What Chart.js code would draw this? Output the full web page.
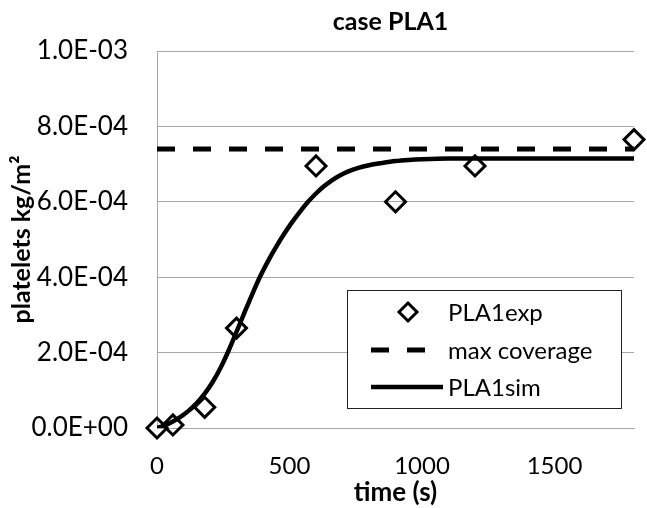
<!DOCTYPE html>
<html>
<head>
<meta charset="utf-8">
<script src="https://cdn.jsdelivr.net/npm/chart.js@4.4.1/dist/chart.umd.min.js"></script>
<style>
  html, body { margin: 0; padding: 0; background: #fff; }
  #wrap { width: 647px; height: 508px; }
</style>
</head>
<body>
<div id="wrap"><canvas id="plaChart" width="647" height="508"></canvas></div>
<script>
// measured platelet coverage
const timeExp = [0, 60, 180, 300, 600, 900, 1200, 1800];
const pla1Exp = [0, 0.08e-4, 0.55e-4, 2.65e-4, 6.95e-4, 6.0e-4, 6.95e-4, 7.65e-4];

// maximum coverage level
const maxCoverage = 7.4e-4;
const maxCoverageTime = [0, 1800];

// simulated curve
const timeSim = [0, 30, 60, 90, 120, 150, 180, 210, 240, 270, 300, 330, 360, 390, 420, 450, 480,
  510, 540, 570, 600, 630, 660, 690, 720, 760, 800, 850, 900, 950, 1000, 1100, 1200, 1400, 1600, 1800];
const pla1Sim = [0, 0.07e-4, 0.17e-4, 0.3e-4, 0.46e-4, 0.66e-4, 0.91e-4, 1.22e-4, 1.6e-4, 2.05e-4,
  2.55e-4, 3.06e-4, 3.56e-4, 4.03e-4, 4.44e-4, 4.81e-4, 5.15e-4, 5.46e-4, 5.74e-4, 6.0e-4, 6.22e-4,
  6.41e-4, 6.57e-4, 6.7e-4, 6.8e-4, 6.9e-4, 6.97e-4, 7.03e-4, 7.08e-4, 7.11e-4, 7.13e-4, 7.15e-4,
  7.15e-4, 7.15e-4, 7.15e-4, 7.15e-4];

const xTicks = [0, 500, 1000, 1500];
const yTicks = [0, 2e-4, 4e-4, 6e-4, 8e-4, 1e-3];

const FONT = 'Lato, "Open Sans", sans-serif';
const GRID = '#a6a6a6';

// Excel style scientific label, e.g. 8.0E-04
function sci(v) {
  let [m, e] = v.toExponential(1).toUpperCase().split('E');
  const sign = e[0] === '-' ? '-' : '+';
  e = e.replace(/[+-]/, '').padStart(2, '0');
  return m + 'E' + sign + e;
}

const pairs = (xs, ys) => xs.map((x, i) => ({ x: x, y: ys[i] }));

// title centred over the plot area
const plotTitle = {
  id: 'plotTitle',
  afterDraw(chart) {
    const { ctx, chartArea: ca } = chart;
    ctx.save();
    ctx.font = 'bold 25px ' + FONT;
    ctx.fillStyle = '#000';
    ctx.textAlign = 'center';
    ctx.textBaseline = 'middle';
    ctx.fillText('case PLA1', (ca.left + ca.right) / 2 - 5, 22);
    ctx.restore();
  }
};

// boxed legend in the lower right of the plot
const boxLegend = {
  id: 'boxLegend',
  afterDraw(chart) {
    const { ctx, chartArea: ca } = chart;
    const ds = chart.data.datasets;
    const left = ca.right - 287, top = ca.bottom - 138, w = 274, h = 118;
    ctx.save();
    ctx.fillStyle = '#fff';
    ctx.fillRect(left, top, w, h);
    ctx.strokeStyle = '#222';
    ctx.lineWidth = 1;
    ctx.strokeRect(left + 0.5, top + 0.5, w, h);

    const rows = [top + 22, top + 60, top + 97];
    const symX = left + 24;

    // diamond
    const r = 9;
    const cx = left + 61, cy = rows[0];
    ctx.beginPath();
    ctx.moveTo(cx, cy - r); ctx.lineTo(cx + r, cy); ctx.lineTo(cx, cy + r); ctx.lineTo(cx - r, cy);
    ctx.closePath();
    ctx.lineWidth = ds[0].borderWidth;
    ctx.strokeStyle = ds[0].borderColor;
    ctx.stroke();

    // dashed
    ctx.beginPath();
    ctx.setLineDash(ds[1].borderDash);
    ctx.lineWidth = ds[1].borderWidth;
    ctx.strokeStyle = ds[1].borderColor;
    ctx.moveTo(symX, rows[1]); ctx.lineTo(symX + 56, rows[1]);
    ctx.stroke();
    ctx.setLineDash([]);

    // solid
    ctx.beginPath();
    ctx.lineWidth = ds[2].borderWidth;
    ctx.strokeStyle = ds[2].borderColor;
    ctx.moveTo(symX, rows[2]); ctx.lineTo(symX + 72, rows[2]);
    ctx.stroke();

    ctx.font = '24px ' + FONT;
    ctx.fillStyle = '#000';
    ctx.textBaseline = 'middle';
    ds.forEach((d, i) => ctx.fillText(d.label, left + 101, rows[i] + 1));
    ctx.restore();
  }
};

const ctx = document.getElementById('plaChart').getContext('2d');
new Chart(ctx, {
  type: 'scatter',
  data: {
    datasets: [
      {
        label: 'PLA1exp',
        data: pairs(timeExp, pla1Exp),
        showLine: false,
        pointStyle: 'rectRot',
        pointRadius: 10,
        pointBorderWidth: 3,
        borderWidth: 3,
        borderColor: '#000',
        pointBackgroundColor: 'rgba(0,0,0,0)',
        order: 0,
        clip: false
      },
      {
        label: 'max coverage',
        data: pairs(maxCoverageTime, maxCoverageTime.map(() => maxCoverage)),
        showLine: true,
        pointRadius: 0,
        borderColor: '#000',
        borderWidth: 5,
        borderDash: [18, 18],
        order: 2,
        clip: false
      },
      {
        label: 'PLA1sim',
        data: pairs(timeSim, pla1Sim),
        showLine: true,
        pointRadius: 0,
        borderColor: '#000',
        borderWidth: 4.5,
        cubicInterpolationMode: 'monotone',
        order: 1
      }
    ]
  },
  options: {
    responsive: false,
    animation: false,
    layout: { padding: { top: 51, right: 9, left: 0, bottom: 0 } },
    plugins: {
      legend: { display: false },
      tooltip: { enabled: false }
    },
    scales: {
      x: {
        type: 'linear',
        min: 0,
        max: 1800,
        afterBuildTicks: s => { s.ticks = xTicks.map(v => ({ value: v })); },
        afterFit: s => { s.height = 80; },
        grid: { display: false, drawTicks: false },
        border: { display: true, color: GRID, width: 1 },
        ticks: {
          color: '#000',
          font: { family: FONT, size: 24 },
          padding: 24,
          callback: v => String(v)
        },
        title: {
          display: true,
          text: 'time (s)',
          color: '#000',
          font: { family: FONT, size: 26, weight: 'bold' },
          padding: { top: 0, bottom: 0 }
        }
      },
      y: {
        min: 0,
        max: 1e-3,
        afterBuildTicks: s => { s.ticks = yTicks.map(v => ({ value: v })); },
        afterFit: s => { s.width = 157; },
        grid: { color: GRID, lineWidth: 1, drawTicks: false },
        border: { display: true, color: GRID, width: 1 },
        ticks: {
          color: '#000',
          font: { family: FONT, size: 26 },
          padding: 29,
          callback: v => sci(v)
        },
        title: {
          display: true,
          text: 'platelets kg/m²',
          color: '#000',
          font: { family: FONT, size: 25, weight: 'bold' },
          padding: { top: 7, bottom: 0 }
        }
      }
    }
  },
  plugins: [plotTitle, boxLegend]
});
</script>
</body>
</html>
